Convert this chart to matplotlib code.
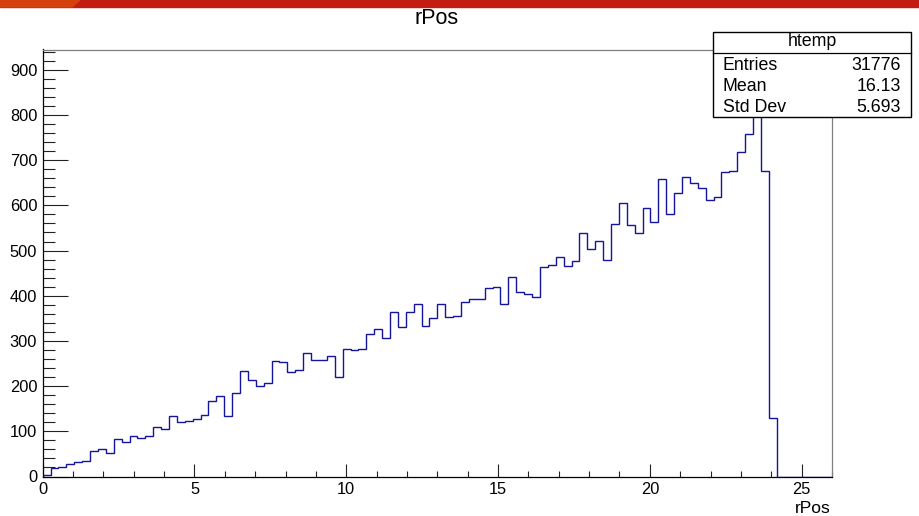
"""ROOT-style rPos histogram (htemp) redrawn with matplotlib."""

import numpy as np
import matplotlib
matplotlib.use("Agg")
import matplotlib.pyplot as plt
from matplotlib import font_manager
from matplotlib.patches import Rectangle, Polygon

# histogram binning and bin contents
x_min, x_max, n_bins = 0.0, 26.0, 100
counts = [
    4, 18, 21, 27, 31, 34, 56, 60, 53, 82,
    76, 89, 86, 89, 109, 106, 135, 121, 122, 128,
    137, 166, 178, 135, 184, 233, 213, 201, 206, 255,
    253, 232, 236, 273, 257, 257, 266, 221, 282, 279,
    283, 316, 327, 307, 363, 331, 365, 382, 333, 351,
    382, 354, 356, 387, 393, 393, 417, 419, 382, 442,
    408, 405, 398, 464, 468, 486, 466, 477, 539, 504,
    522, 480, 559, 606, 556, 539, 595, 564, 658, 582,
    628, 662, 650, 638, 611, 618, 674, 676, 718, 758,
    900, 676, 129, 0, 0, 0, 0, 0, 0, 0,
]
stat_names = ["Entries", "Mean", "Std Dev"]
stat_values = ["31776", "16.13", "5.693"]
hist_name = "htemp"
var_name = "rPos"

W, H = 919, 516
plt.rcParams["font.family"] = ["Liberation Sans", "DejaVu Sans"]


def fx(px):
    return px / W


def fy(py):
    return 1 - py / H


try:
    font_manager.findfont("Liberation Sans Narrow", fallback_to_default=False)
    narrow = "Liberation Sans Narrow"
except ValueError:
    narrow = "Liberation Sans"

fig = plt.figure(figsize=(W / 100, H / 100), dpi=100)

# browser banner strip at the very top
fig.patches.append(Rectangle((0, fy(7)), 1, 7 / H, transform=fig.transFigure,
                             color="#c21d13", zorder=0))
fig.patches.append(Polygon([(0, fy(0)), (fx(80), fy(0)), (fx(72), fy(7)), (0, fy(7))],
                           closed=True, transform=fig.transFigure,
                           color="#d5400f", zorder=1))

ax = fig.add_axes([fx(42.7), fy(476.5), fx(832 - 42.7), (476.5 - 49.5) / H])

edges = np.linspace(x_min, x_max, n_bins + 1)
ax.stairs(counts, edges, color="#14149c", linewidth=1.0)

ax.set_xlim(x_min, x_max)
ax.set_ylim(0, 1.05 * max(counts))

ax.set_xticks(np.arange(0, 26, 5))
ax.set_xticks(np.arange(0, 27, 1), minor=True)
ax.set_xticklabels([str(v) for v in range(0, 26, 5)], fontsize=11.8)
yt = np.arange(0, 901, 100)
ax.set_yticks(yt, labels=[str(v) for v in yt], fontsize=11.8, fontfamily=narrow)
ax.set_yticks(np.arange(0, 941, 20), minor=True)

ax.tick_params(axis="x", which="major", direction="in", length=9.2, width=0.8,
               pad=4.0, color="#222222")
ax.tick_params(axis="x", which="minor", direction="in", length=4.6, width=0.8,
               color="#222222")
ax.tick_params(axis="y", which="major", direction="in", length=17.8, width=0.8,
               pad=4.0, color="#222222")
ax.tick_params(axis="y", which="minor", direction="in", length=8.9, width=0.8,
               color="#222222")

for side in ("left", "bottom"):
    ax.spines[side].set_color("black")
    ax.spines[side].set_linewidth(0.9)
for side in ("top", "right"):
    ax.spines[side].set_color("#808080")
    ax.spines[side].set_linewidth(0.9)

# titles
fig.text(fx(437), fy(24), var_name, ha="center", va="baseline", fontsize=15.5)
fig.text(fx(831), fy(513), var_name, ha="right", va="baseline", fontsize=12.5)

# stats box
bx0, by0, bx1, by1 = 713.3, 31.7, 911.3, 116.7
fig.patches.append(Rectangle((fx(bx0), fy(by1)), fx(bx1 - bx0), (by1 - by0) / H,
                             transform=fig.transFigure, facecolor="white",
                             edgecolor="black", linewidth=1.0, zorder=5))
fig.add_artist(plt.Line2D([fx(bx0), fx(bx1)], [fy(52.7), fy(52.7)],
                          transform=fig.transFigure, color="black",
                          linewidth=0.9, zorder=6))
fig.text(fx((bx0 + bx1) / 2), fy(45.5), hist_name, ha="center", va="baseline",
         fontsize=12.8, zorder=7)
for i, (name, val) in enumerate(zip(stat_names, stat_values)):
    base = 69.5 + i * 21.2
    fig.text(fx(723), fy(base), name, ha="left", va="baseline", fontsize=12.8, zorder=7)
    fig.text(fx(901), fy(base), val, ha="right", va="baseline", fontsize=12.8, zorder=7)

fig.savefig("out.png", dpi=100)
